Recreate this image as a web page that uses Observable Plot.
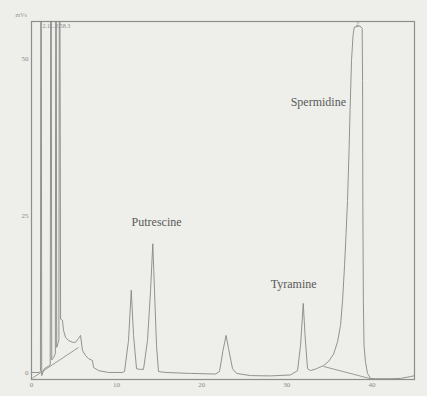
<!DOCTYPE html>
<html>
<head>
<meta charset="utf-8">
<script src="https://cdn.jsdelivr.net/npm/d3@7"></script>
<script src="https://cdn.jsdelivr.net/npm/@observablehq/plot@0.6"></script>
<style>
  html, body { margin: 0; padding: 0; background: #eeeeeb; }
  #chart { width: 427px; height: 396px; }
</style>
</head>
<body>
<div id="chart"></div>
<script>
// Retention time (min) and detector signal
const times = [
  0.1, 0.9, 1.05, 1.12, 1.2, 1.5, 2.0, 2.2, 2.29, 2.38, 2.6, 2.8, 2.88, 2.96, 3.1, 3.22, 3.29, 3.42,
  3.64, 3.76, 4.0, 4.35, 4.82, 5.17, 5.52, 5.76, 5.99, 6.35, 6.7, 7.17, 7.29, 7.87, 9.05, 10.69,
  10.93, 11.4, 11.72, 11.99, 12.34, 12.69, 13.16, 13.63, 13.99, 14.25, 14.45, 14.69, 14.92, 15.75,
  18.68, 21.62, 22.09, 22.5, 22.86, 23.15, 23.62, 24.09, 25.73, 28.08, 30.43,
  31.26, 31.61, 31.93, 32.14, 32.43, 32.79,
  33.49, 34.31, 34.9, 35.49, 35.96, 36.31, 36.55, 36.78, 36.96, 37.13, 37.31, 37.43, 37.6, 37.78,
  37.92, 38.6, 38.85, 38.9, 38.93, 38.99, 39.07, 39.25, 39.48, 39.84, 40.42, 42.19, 43.36, 44.54, 44.89
];
const signal = [
  0, 0, 0.2, 95, -0.5, 0.6, 1.0, 1.2, 95, 2.0, 2.4, 3.0, 95, 4.0, 4.6, 5.2, 95, 8.5,
  8.3, 6.7, 5.6, 5.1, 4.8, 4.8, 5.4, 5.9, 3.5, 2.7, 2.2, 1.9, 0.8, 0.3, 0, 0,
  0.15, 5.1, 13.1, 5.9, 0.6, 0.5, 0.5, 5.1, 13.1, 20.5, 13.1, 4.3, 0.15, 0,
  -0.15, -0.25, 0.15, 3.5, 5.9, 3.8, 0.6, -0.15, -0.5, -0.55, -0.4,
  0.3, 4.3, 11.0, 5.9, 0.6, 0.3,
  0.6, 1.1, 1.75, 2.9, 4.9, 7.5, 11.5, 17.0, 22.1, 27.4, 35.4, 41.7, 49.7, 53.7,
  55.0, 55.2, 54.8, 46.5, 27.4, 11.5, 4.3, 1.6, -0.15, -0.95, -1.0, -1.0, -0.95, -0.65, -0.55
];

// Integration baselines drawn by the integrator
const baseStartT = [0.1, 34.31];
const baseStartV = [-0.9, 0.96];
const baseEndT = [5.52, 39.84];
const baseEndV = [3.98, -1.0];

// Peak annotations
const peakNames = ["Putrescine", "Tyramine", "Spermidine"];
const peakLabelT = [14.7, 30.8, 33.7];
const peakLabelV = [23.9, 14.0, 43.0];

const xTicks = [0, 10, 20, 30, 40];
const yTicks = [0, 25, 50];
const unitLabel = "mVs";
const solventLabel = "2.1L.2.58.3";

const trace = times.map((t, i) => ({t, v: signal[i]}));
const bases = baseStartT.map((t, i) => ({t1: t, v1: baseStartV[i], t2: baseEndT[i], v2: baseEndV[i]}));
const labels = peakNames.map((n, i) => ({name: n, t: peakLabelT[i], v: peakLabelV[i]}));

const ink = "#878785";
const chart = Plot.plot({
  width: 427,
  height: 396,
  marginLeft: 31,
  marginRight: 13,
  marginTop: 21,
  marginBottom: 17,
  style: {background: "#eeeeeb", fontFamily: "'Liberation Serif', 'DejaVu Serif', serif", fontSize: "7px", color: "#8a8a88"},
  x: {domain: [0, 45], ticks: xTicks, tickSize: 0, tickPadding: 3, label: null},
  y: {domain: [-1.12, 55.9], ticks: yTicks, tickSize: 0, tickPadding: 3, label: null},
  marks: [
    Plot.frame({stroke: "#8e8e8c", strokeWidth: 1.2}),
    Plot.link(bases, {x1: "t1", y1: "v1", x2: "t2", y2: "v2", stroke: "#90908e", strokeWidth: 0.9}),
    Plot.line(trace, {x: "t", y: "v", stroke: ink, strokeWidth: 0.9, clip: true}),
    Plot.text(labels, {x: "t", y: "v", text: "name", fill: "#5a5a58", fontSize: 12, letterSpacing: "0.2px", fontFamily: "'Liberation Serif', serif"}),
    Plot.text([unitLabel], {frameAnchor: "top-left", dx: -16, dy: -9, fill: "#9a9a98", fontSize: 6}),
    Plot.text([solventLabel], {x: [1.3], y: [55.2], textAnchor: "start", fill: "#8a8a88", fontSize: 6}),
    Plot.text(["2"], {x: [38.3], y: [55.5], fill: "#8a8a88", fontSize: 6})
  ]
});
document.getElementById("chart").appendChild(chart);
</script>
</body>
</html>
